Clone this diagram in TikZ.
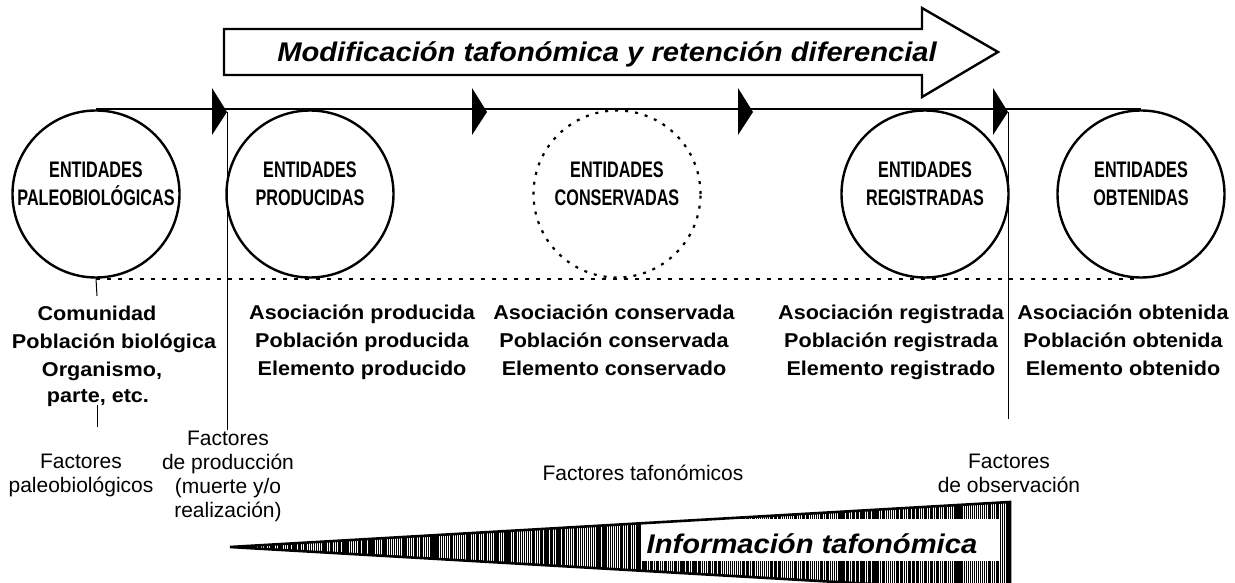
\documentclass[tikz,border=0pt]{standalone}
\usepackage{fontspec}
\setmainfont{Liberation Sans}
\newfontfamily\narrowfont{Liberation Sans Bold}[FakeStretch=0.72]
\newfontfamily\listfont{Liberation Sans Bold}[FakeStretch=1.08]
\newfontfamily\titlefont{Liberation Sans Bold Italic}[FakeStretch=1.08]
\tikzset{
  ent/.style={circle, draw, line width=2.4pt, minimum size=167pt, inner sep=0pt},
  entdotted/.style={ent, line width=2.2pt, dash pattern=on 3pt off 7pt},
  entlabel/.style={font=\narrowfont\fontsize{22.5}{28}\selectfont, align=center, inner sep=0pt},
  listtxt/.style={font=\listfont\fontsize{20}{28}\selectfont, align=center, anchor=base, inner sep=0pt},
  factxt/.style={font=\fontsize{21}{24}\selectfont, align=center, anchor=base, inner sep=0pt},
  bigtxt/.style={font=\titlefont\fontsize{27}{30}\selectfont, anchor=base, inner sep=0pt},
  mainline/.style={line width=2.4pt},
  thinline/.style={line width=1pt},
  dotline/.style={line width=2pt, dash pattern=on 4pt off 7pt},
  headtri/.style={fill=black},
}
\begin{document}
\begin{tikzpicture}[x=1pt,y=-1pt]
\clip (0,0) rectangle (1235,583);
\fill[white] (0,0) rectangle (1235,583);

% top block arrow
\draw[line width=2.4pt, line join=miter] (224,29) -- (922,29) -- (922,8) -- (998,52) -- (922,97) -- (922,75) -- (224,75) -- cycle;
\node[bigtxt] (modif) at (607,62) {Modificación tafonómica y retención diferencial};

% circles
\node[ent] (c1) at (96,194) {};
\node[ent] (c2) at (310,194) {};
\node[entdotted] (c3) at (617,194) {};
\node[ent] (c4) at (925,194) {};
\node[ent] (c5) at (1141,194) {};

\node[entlabel] (t1) at (96,184) {ENTIDADES\\PALEOBIOLÓGICAS};
\node[entlabel] (t2) at (310,184) {ENTIDADES\\PRODUCIDAS};
\node[entlabel] (t3) at (617,184) {ENTIDADES\\CONSERVADAS};
\node[entlabel] (t4) at (925,184) {ENTIDADES\\REGISTRADAS};
\node[entlabel] (t5) at (1141,184) {ENTIDADES\\OBTENIDAS};

% main line and dotted line
\draw[mainline] (c1.north) -- (c5.north);
\draw[dotline] (c1.south) -- (c5.south);
\foreach \tx in {227,487,753,1008}{
  \fill[headtri] (\tx-15,88) -- (\tx,112) -- (\tx-15,135) -- cycle;
}

% bold lists (anchor base = baseline of last line)
\node[listtxt] (l1a) at (97,320) {Comunidad};
\node[listtxt] (l1b) at (114,348) {Población biológica};
\node[listtxt] (l1c) at (102,376) {Organismo,};
\node[listtxt] (l1d) at (98,402) {parte, etc.};
\node[listtxt] (l2) at (362,375) {Asociación producida\\Población producida\\Elemento producido};
\node[listtxt] (l3) at (614,375) {Asociación conservada\\Población conservada\\Elemento conservado};
\node[listtxt] (l4) at (891,375) {Asociación registrada\\Población registrada\\Elemento registrado};
\node[listtxt] (l5) at (1123,375) {Asociación obtenida\\Población obtenida\\Elemento obtenido};

% factors
\node[factxt] (f1) at (81,492) {Factores\\paleobiológicos};
\node[factxt] (f2) at (228,517) {Factores\\de producción\\(muerte y/o\\realización)};
\node[factxt] (f3) at (643,480) {Factores tafonómicos};
\node[factxt] (f4) at (1009,492) {Factores\\de observación};

% vertical lines
\coordinate (v1a) at (227,112);
\coordinate (v1b) at (227,430);
\draw[thinline] (v1a) -- (v1b);
\coordinate (v2a) at (1008,112);
\coordinate (v2b) at (1008,419);
\draw[thinline] (v2a) -- (v2b);
\coordinate (v3a) at (97,296);
\draw[thinline] (c1.south) -- (v3a);
\coordinate (v4a) at (97,405);
\coordinate (v4b) at (97,427);
\draw[thinline] (v4a) -- (v4b);

% information wedge
\begin{scope}
  \clip (230,547) -- (1010,502) -- (1010,592) -- cycle;
  \pgfmathsetseed{5}
  \foreach \i in {0,...,395}{
    \pgfmathsetmacro\xx{230+2*\i}
    \pgfmathsetmacro\ww{0.4+0.9*rnd}
    \draw[line width=\ww pt] (\xx,495) -- (\xx,600);
  }
\end{scope}
\fill[white] (641,519) rectangle (999,561);
\draw[line width=2.6pt, line join=miter] (230,547) -- (1010,502) -- (1010,592) -- cycle;
\node[bigtxt] (info) at (812,553) {Información tafonómica};
\end{tikzpicture}
\end{document}
